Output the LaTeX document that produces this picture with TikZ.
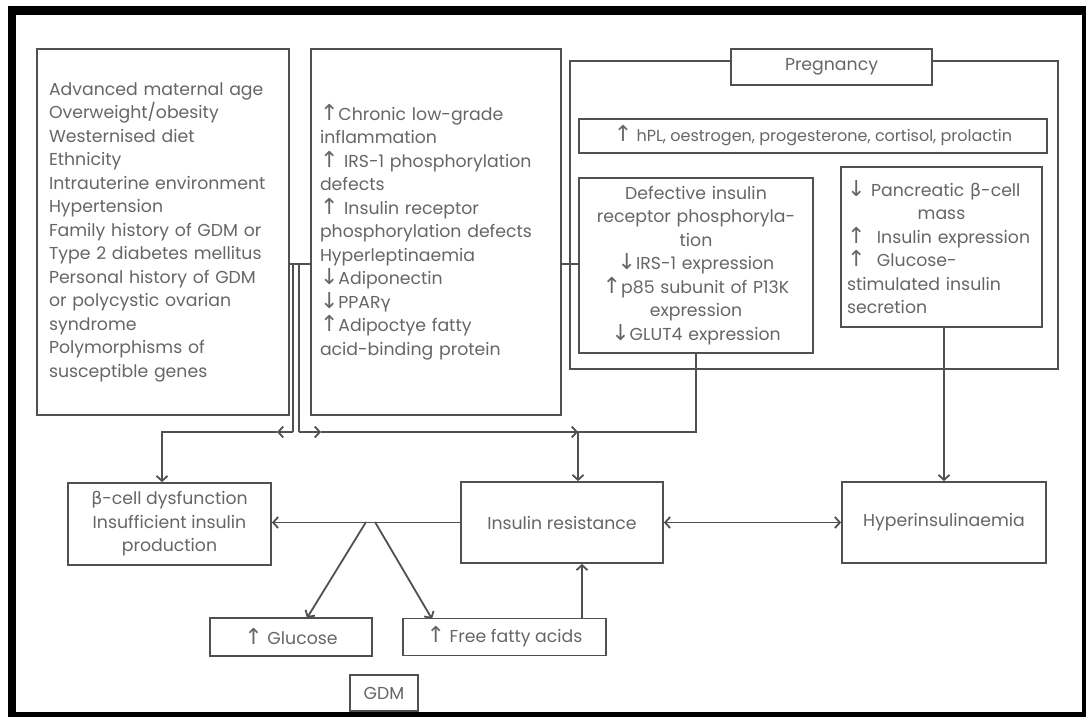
\documentclass[tikz,border=0pt]{standalone}
\usepackage{fontspec}
\setmainfont{Poppins}
\newfontfamily\symf{DejaVu Sans}
\usetikzlibrary{arrows.meta}
\definecolor{txt}{HTML}{666666}
\definecolor{ln}{HTML}{505050}
\newcommand\uarr{{\symf\fontsize{22}{23.5}\selectfont ↑}}
\newcommand\darr{{\symf\fontsize{22}{23.5}\selectfont ↓}}
\newcommand\gbeta{{\symf β}}
\newcommand\ggamma{{\symf γ}}
\begin{document}
\begin{tikzpicture}[x=1pt,y=-1pt,
 box/.style={draw=ln,line width=1.8pt,inner sep=0pt,text=txt,font=\fontsize{17.3}{23.5}\selectfont},
 conn/.style={draw=ln,line width=1.8pt},
 arr/.style={conn,-{Straight Barb[length=5pt,width=11pt]}},
 darr/.style={conn,{Straight Barb[length=5pt,width=11pt]}-{Straight Barb[length=5pt,width=11pt]}},
]
\useasboundingbox (0,0) rectangle (1086,717);
\fill[white] (0,0) rectangle (1086,717);
\fill[black] (8,6) rectangle (1086,717);
\fill[white] (16,15) rectangle (1082,712);

% upper boxes
\node[box,minimum width=252pt,minimum height=366pt,text width=228pt,align=left] (A) at (163,232)
 {Advanced maternal age\\ Overweight/obesity\\ Westernised diet\\ Ethnicity\\ Intrauterine environment\\ Hypertension\\ Family history of GDM or\\ Type 2 diabetes mellitus\\ Personal history of GDM\\ or polycystic ovarian\\ syndrome\\ Polymorphisms of\\ susceptible genes};
\node[box,minimum width=250pt,minimum height=366pt,text width=232pt,align=left] (B) at (436,232)
 {\uarr Chronic low-grade\\ inflammation\\ \uarr\ IRS-1 phosphorylation\\ defects\\ \uarr\ Insulin receptor\\ phosphorylation defects\\ Hyperleptinaemia\\ \darr Adiponectin\\ \darr PPAR\ggamma\\ \uarr Adipoctye fatty\\ acid-binding protein};
\node[box,minimum width=488pt,minimum height=308pt] (P) at (814,215) {};
\node[box,fill=white,minimum width=201pt,minimum height=36pt] (PL) at (831.5,67) {Pregnancy};
\node[box,minimum width=468pt,minimum height=34pt,font=\fontsize{16}{23.5}\selectfont] (H) at (813,136) {\uarr\ hPL, oestrogen, progesterone, cortisol, prolactin};
\node[box,minimum width=234pt,minimum height=175pt,text width=222pt,align=center] (D) at (696,265.5)
 {Defective insulin\\ receptor phosphoryla-\\ tion\\ \darr IRS-1 expression\\ \uarr p85 subunit of P13K\\ expression\\ \darr GLUT4 expression};
\node[box,minimum width=201pt,minimum height=160pt,text width=189pt,align=left] (C) at (941.5,247)
 {\darr\ Pancreatic \gbeta-cell\\ \makebox[189pt]{mass}\\ \uarr\ \ Insulin expression\\ \uarr\ \ Glucose-\\ stimulated insulin\\ secretion};

% lower boxes
\node[box,minimum width=203pt,minimum height=82pt,align=center] (BC) at (169.5,524)
 {\gbeta-cell dysfunction\\ Insufficient insulin\\ production};
\node[box,minimum width=202pt,minimum height=81pt] (IR) at (562,522.5) {Insulin resistance};
\node[box,minimum width=204pt,minimum height=81pt] (HI) at (944,522.5) {Hyperinsulinaemia};
\node[box,minimum width=162pt,minimum height=38pt] (G) at (291,637) {\uarr\ Glucose};
\node[box,minimum width=203pt,minimum height=37pt] (F) at (504.5,637) {\uarr\ Free fatty acids};
\node[box,minimum width=68pt,minimum height=36pt] (GDM) at (384,693) {GDM};

% coordinates
\coordinate (j) at (296,264);
\coordinate (vl) at (293,264);
\coordinate (vr) at (299,264);
\coordinate (bl) at (293,432);
\coordinate (br) at (299,432);
\coordinate (al) at (277,432);
\coordinate (ar) at (321,432);
\coordinate (cl) at (162,432);
\coordinate (cr) at (578,432);
\coordinate (dd) at (696,432);
\coordinate (de) at (530,432);
\coordinate (apL) at (366,522);
\coordinate (apR) at (375,522);
\coordinate (gT) at (307,618);
\coordinate (fT) at (432,619);
\coordinate (fu) at (582,600);

% connectors
\draw[conn] (A.east|-j) -- (B.west|-j);
\draw[conn] (vl) -- (bl);
\draw[conn] (vr) -- (br);
\draw[arr] (bl) -- (al);
\draw[arr] (al) -- (cl) -- (cl|-BC.north);
\draw[arr] (br) -- (ar);
\draw[arr] (ar) -- (cr);
\draw[arr] (cr) -- (cr|-IR.north);
\draw[conn] (B.east|-j) -- (D.west|-j);
\draw[conn] (D.south) -- (dd) -- (de);
\draw[arr] (HI.north|-C.south) -- (HI.north);
\draw[arr] (IR.west) -- (BC.east|-IR.west);
\draw[arr] (apL) -- (gT);
\draw[arr] (apR) -- (fT);
\draw[arr] (F.north-|fu) -- (IR.south-|fu);
\draw[darr] (IR.east) -- (HI.west);
\end{tikzpicture}
\end{document}
